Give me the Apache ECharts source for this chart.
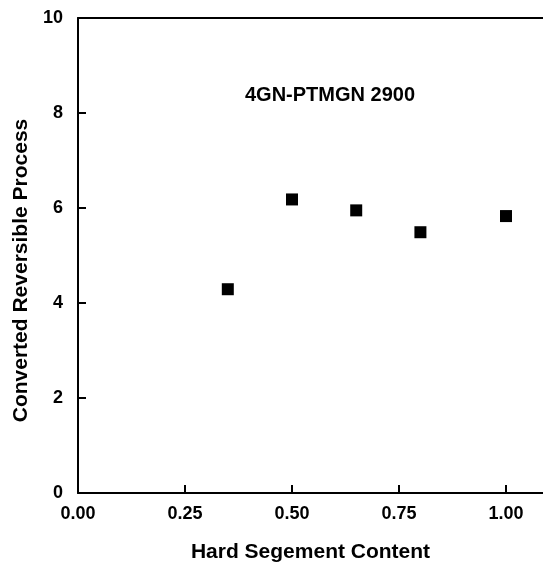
<!DOCTYPE html>
<html>
<head>
<meta charset="utf-8">
<script src="https://cdn.jsdelivr.net/npm/echarts@6/dist/echarts.min.js"></script>
<style>html,body{margin:0;padding:0;background:#fff;}#c{width:543px;height:568px;}</style>
</head>
<body>
<div id="c"></div>
<script>
const xValues = [0.35, 0.50, 0.65, 0.80, 1.00];
const yValues = [4.29, 6.18, 5.95, 5.49, 5.83];
const xTicks = [0, 0.25, 0.5, 0.75, 1.0];
const titleText = '4GN-PTMGN 2900';
const xName = 'Hard Segement Content';
const yName = 'Converted Reversible Process';

const FONT = '"Liberation Sans", Arial, Helvetica, sans-serif';
const chart = echarts.init(document.getElementById('c'));
const xMax = 1.0864;
chart.setOption({
  backgroundColor: '#fff',
  animation: false,
  title: {
    text: titleText,
    left: 240, top: 80,
    textStyle: {fontFamily: FONT, fontWeight: 'bold', fontSize: 20, color: '#000'}
  },
  grid: {left: 78, right: 0, top: 18, bottom: 75, outerBoundsMode: 'none', containLabel: false},
  xAxis: [{
    type: 'value', min: 0, max: xMax, interval: 0.25,
    name: xName, nameLocation: 'middle', nameGap: 49,
    nameTextStyle: {fontFamily: FONT, fontWeight: 'bold', fontSize: 21, color: '#000'},
    axisLine: {show: true, onZero: false, lineStyle: {color: '#000', width: 2}},
    axisTick: {show: true, inside: true, length: 8, lineStyle: {color: '#000', width: 2},
      customValues: xTicks},
    axisLabel: {fontFamily: FONT, fontWeight: 'bold', fontSize: 18, color: '#000', margin: 12,
      customValues: xTicks,
      formatter: v => xTicks.some(t => Math.abs(t - v) < 1e-9) ? v.toFixed(2) : ''},
    splitLine: {show: false}
  }, {
    type: 'value', position: 'top', min: 0, max: xMax,
    axisLine: {show: true, onZero: false, lineStyle: {color: '#000', width: 2}},
    axisTick: {show: false}, axisLabel: {show: false}, splitLine: {show: false}
  }],
  yAxis: {
    type: 'value', min: 0, max: 10, interval: 2,
    name: yName, nameLocation: 'middle', nameGap: 45,
    nameTextStyle: {fontFamily: FONT, fontWeight: 'bold', fontSize: 21, color: '#000', padding: [0, 30, 0, 0]},
    axisLine: {show: true, onZero: false, lineStyle: {color: '#000', width: 2}},
    axisTick: {show: true, inside: true, length: 8, lineStyle: {color: '#000', width: 2}},
    axisLabel: {fontFamily: FONT, fontWeight: 'bold', fontSize: 18, color: '#000', margin: 15},
    splitLine: {show: false}
  },
  series: [{
    type: 'scatter',
    data: xValues.map((x, i) => [x, yValues[i]]),
    symbol: 'rect', symbolSize: 12,
    itemStyle: {color: '#000', opacity: 1}
  }]
});
</script>
</body>
</html>
